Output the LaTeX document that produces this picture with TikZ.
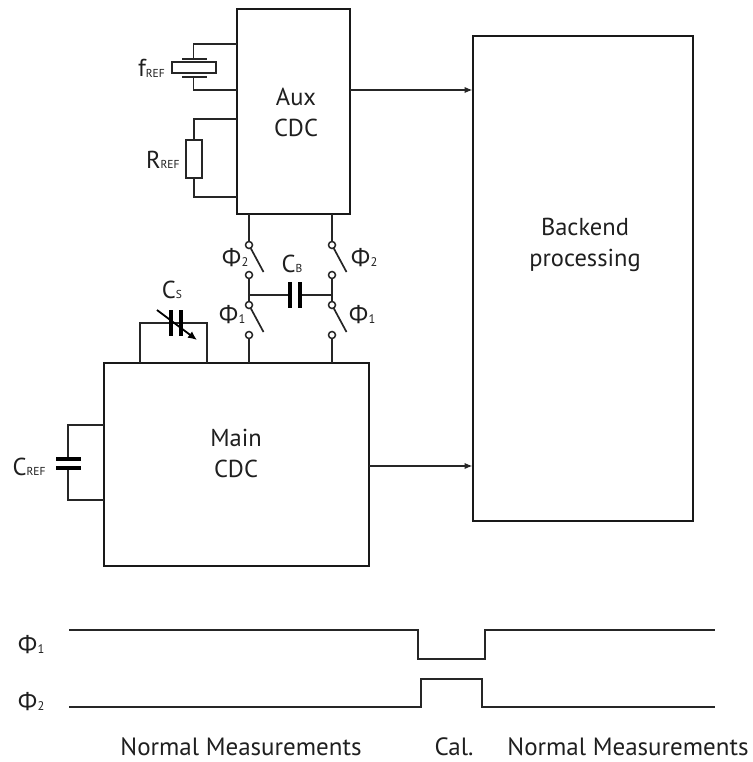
\documentclass[tikz,border=0pt]{standalone}
\usepackage{fontspec}
\setmainfont{PT Sans}
\newfontfamily\phifont{Open Sans}
\usetikzlibrary{arrows.meta}
\newcommand{\subl}[2]{#1{\fontsize{11.5}{11.5}\selectfont\raisebox{-0.5pt}{#2}}}
\newcommand{\phil}[1]{{\phifont\fontsize{25}{25}\selectfont Φ}{\fontsize{12.5}{12.5}\selectfont #1}}
\definecolor{txt}{gray}{0.12}
\tikzset{
  x=1pt,y=-1pt,
  every node/.style={inner sep=0pt,outer sep=0pt,text=txt,font=\fontsize{24.5}{31}\selectfont},
  block/.style={draw=black!90,line width=2.1pt,anchor=north west,align=center},
  wire/.style={draw=black!85,line width=1.9pt},
  sig/.style={draw=black!85,line width=2pt},
  plate/.style={draw=black,line width=3.4pt},
  arrowline/.style={draw=black!85,line width=1.5pt,-{Latex[length=8pt,width=6.5pt]}},
  term/.style={circle,draw=black!85,line width=1.5pt,fill=white,minimum size=7pt},
  blade/.style={draw=black!85,line width=1.7pt},
  lbl/.style={anchor=center},
  bottomtext/.style={anchor=center,font=\fontsize{25}{25}\selectfont},
  compo/.style={draw=black!85,line width=1.9pt,fill=white,anchor=north west}
}
\begin{document}
\begin{tikzpicture}
\useasboundingbox (0,0) rectangle (752,762);
% blocks
\node[block,minimum width=113pt,minimum height=205pt] (aux) at (237,9) {};
\node[lbl,align=center] (auxt) at (296,112) {Aux\\CDC};
\node[block,minimum width=220pt,minimum height=485pt] (back) at (473,36) {};
\node[lbl,align=center] (backt) at (585,245) {Backend\\processing};
\node[block,minimum width=265pt,minimum height=203pt] (main) at (104,363) {};
\node[lbl,align=center] (maint) at (236,453) {Main\\CDC};
% arrows
\coordinate (a1) at (350,90); \coordinate (a2) at (472.5,90);
\coordinate (b1) at (369,466); \coordinate (b2) at (472.5,466);
\draw[arrowline] (a1) -- (a2);
\draw[arrowline] (b1) -- (b2);
% crystal
\coordinate (x1) at (237,44); \coordinate (x2) at (193.5,44);
\coordinate (x3) at (193.5,59); \coordinate (x4) at (193.5,77);
\coordinate (x5) at (193.5,90); \coordinate (x6) at (237,90);
\draw[wire] (x1) -- (x2) -- (x3);
\draw[wire] (x4) -- (x5) -- (x6);
\node[compo,minimum width=44pt,minimum height=11pt] (xtal) at (172,62) {};
\coordinate (p1) at (182,59); \coordinate (p2) at (207,59);
\coordinate (p3) at (182,77); \coordinate (p4) at (207,77);
\draw[wire] (p1) -- (p2);
\draw[wire] (p3) -- (p4);
\node[lbl,anchor=base west] (fref) at (138,77) {\subl{f}{REF}};
% resistor
\coordinate (r1) at (237,119); \coordinate (r2) at (194,119);
\coordinate (r3) at (194,197); \coordinate (r4) at (237,197);
\draw[wire] (r1) -- (r2) -- (r3) -- (r4);
\node[compo,minimum width=16pt,minimum height=38pt] (res) at (186,140) {};
\node[lbl,anchor=base west] (rref) at (146,168) {\subl{R}{REF}};
% switches
\foreach \n/\x in {l/249,r/332}{
  \coordinate (top\n) at (\x,214);
  \coordinate (bot\n) at (\x,363);
  \node[term] (s1\n) at (\x,245) {};
  \node[term] (s2\n) at (\x,275) {};
  \node[term] (s3\n) at (\x,305) {};
  \node[term] (s4\n) at (\x,335) {};
  \coordinate (bu\n) at (\x+14.5,272);
  \coordinate (bd\n) at (\x+14.5,332);
  \draw[wire] (top\n) -- (s1\n);
  \draw[wire] (s2\n) -- (s3\n);
  \draw[wire] (s4\n) -- (bot\n);
  \draw[blade] (s1\n) -- (bu\n);
  \draw[blade] (s3\n) -- (bd\n);
}
\node[lbl] (ph2l) at (235,258) {\phil{2}};
\node[lbl] (ph1l) at (232,315) {\phil{1}};
\node[lbl] (ph2r) at (364,258) {\phil{2}};
\node[lbl] (ph1r) at (362,315) {\phil{1}};
% CB
\coordinate (cbl) at (249,295); \coordinate (cbr) at (332,295);
\coordinate (cb1) at (290,295); \coordinate (cb2) at (300,295);
\coordinate (cb1t) at (290,282); \coordinate (cb1b) at (290,308);
\coordinate (cb2t) at (300,282); \coordinate (cb2b) at (300,308);
\draw[wire] (cbl) -- (cb1);
\draw[wire] (cb2) -- (cbr);
\draw[plate] (cb1t) -- (cb1b);
\draw[plate] (cb2t) -- (cb2b);
\node[lbl] (cbt) at (292,264) {\subl{C}{B}};
% CS
\coordinate (s1) at (140,363); \coordinate (s2) at (140,323);
\coordinate (s3) at (207,323); \coordinate (s4) at (207,363);
\draw[wire] (s1) -- (s2) -- (s3) -- (s4);
\coordinate (cs1t) at (171,310); \coordinate (cs1b) at (171,336);
\coordinate (cs2t) at (181,310); \coordinate (cs2b) at (181,336);
\draw[plate] (cs1t) -- (cs1b);
\draw[plate] (cs2t) -- (cs2b);
\coordinate (ca1) at (157,310); \coordinate (ca2) at (197,340);
\draw[draw=black,line width=1.8pt,-{Latex[length=9pt,width=8pt]}] (ca1) -- (ca2);
\node[lbl] (cst) at (172,290) {\subl{C}{S}};
% CREF
\coordinate (c1) at (104,425); \coordinate (c2) at (68,425);
\coordinate (c3) at (68,459); \coordinate (c4) at (68,468);
\coordinate (c5) at (68,500); \coordinate (c6) at (104,500);
\draw[wire] (c1) -- (c2) -- (c3);
\draw[wire] (c4) -- (c5) -- (c6);
\coordinate (cpa) at (56,459); \coordinate (cpb) at (81,459);
\coordinate (cpc) at (56,468); \coordinate (cpd) at (81,468);
\draw[plate] (cpa) -- (cpb);
\draw[plate] (cpc) -- (cpd);
\node[lbl] (creft) at (29,467) {\subl{C}{REF}};
% timing
\coordinate (t1a) at (69,630); \coordinate (t1b) at (417.5,630);
\coordinate (t1c) at (417.5,658.5); \coordinate (t1d) at (485,658.5);
\coordinate (t1e) at (485,630); \coordinate (t1f) at (715,630);
\draw[sig] (t1a) -- (t1b) -- (t1c) -- (t1d) -- (t1e) -- (t1f);
\coordinate (t2a) at (69,707); \coordinate (t2b) at (421,707);
\coordinate (t2c) at (421,678.5); \coordinate (t2d) at (482,678.5);
\coordinate (t2e) at (482,707); \coordinate (t2f) at (715,707);
\draw[sig] (t2a) -- (t2b) -- (t2c) -- (t2d) -- (t2e) -- (t2f);
\node[lbl] (tp1) at (31,645) {\phil{1}};
\node[lbl] (tp2) at (31,702) {\phil{2}};
\node[bottomtext] (nm1) at (241,747) {Normal Measurements};
\node[bottomtext] (cal) at (454,747) {Cal.};
\node[bottomtext] (nm2) at (628,747) {Normal Measurements};
\end{tikzpicture}
\end{document}
